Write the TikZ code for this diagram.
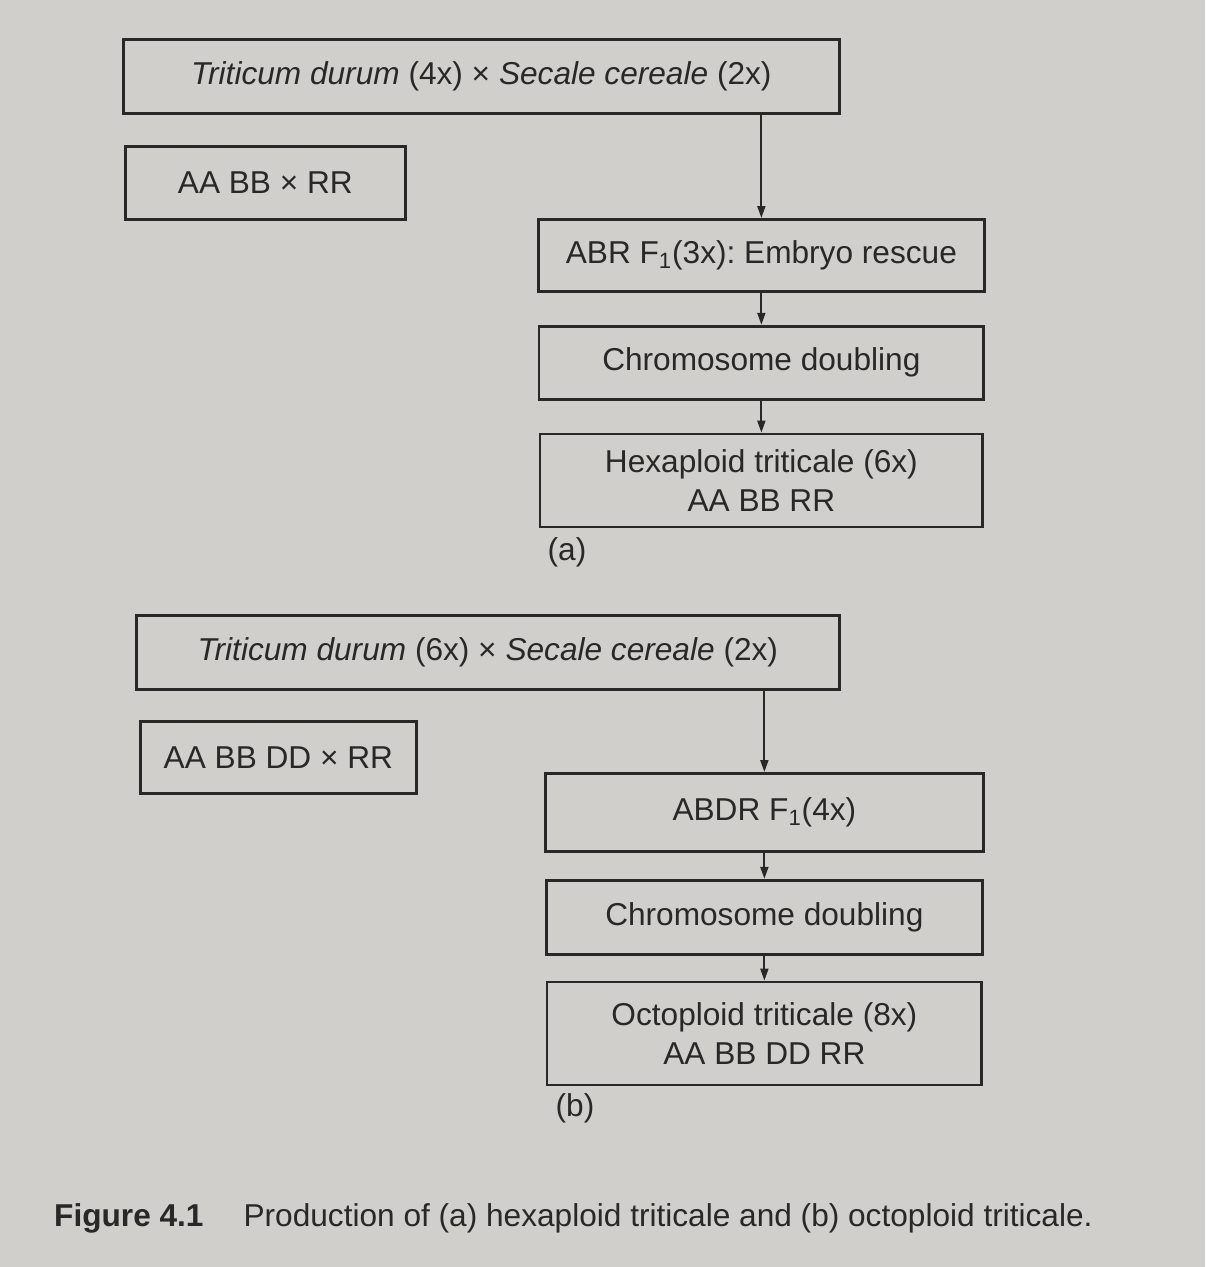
\documentclass[tikz,border=0pt]{standalone}
\usepackage{fontspec}
\setmainfont{Liberation Sans}
\usepackage{xcolor}
\usetikzlibrary{arrows.meta,positioning}
\definecolor{paper}{RGB}{208,207,203}
\definecolor{ink}{RGB}{40,40,40}

\begin{document}
\frenchspacing
\begin{tikzpicture}[
  x=0.02cm, y=-0.02cm,
  font=\fontsize{18}{22}\selectfont,
  box/.style={draw=ink, text=ink, line width=1.6pt, align=center,
              inner sep=0pt},
  tag/.style={text=ink},
  arr/.style={-{Triangle[length=2.4mm,width=1.6mm]}, draw=ink,
              line width=1.1pt}
]
\fill[paper] (0,0) rectangle (1205,1267);
\useasboundingbox (0,0) rectangle (1205,1267);
% part (a)
\node[box, anchor=north west, minimum width=14.32cm, minimum height=1.48cm]
  (crossA) at (122,38)
  {\textit{Triticum durum} (4x) × \textit{Secale cereale} (2x)};
\node[box, anchor=north west, minimum width=5.6cm, minimum height=1.46cm]
  (genomeA) at (124,145) {AA BB × RR};
\node[box, anchor=north west, minimum width=8.92cm, minimum height=1.44cm]
  (hybridA) at (537,218) {ABR F\textsubscript{1}(3x): Embryo rescue};
\node[box, below=0.64cm of hybridA, minimum width=8.9cm, minimum height=1.46cm]
  (doubleA) {Chromosome doubling};
\node[box, below=0.64cm of doubleA, minimum width=8.86cm, minimum height=1.86cm]
  (hexa) {Hexaploid triticale (6x)\\AA BB RR};
\node[tag] (labelA) at (567,552) {(a)};
\draw[arr] (crossA.south -| hybridA.north) -- (hybridA.north);
\draw[arr] (hybridA) -- (doubleA);
\draw[arr] (doubleA) -- (hexa);
% part (b)
\node[box, anchor=north west, minimum width=14.06cm, minimum height=1.48cm]
  (crossB) at (135,614)
  {\textit{Triticum durum} (6x) × \textit{Secale cereale} (2x)};
\node[box, anchor=north west, minimum width=5.52cm, minimum height=1.44cm]
  (genomeB) at (139,720) {AA BB DD × RR};
\node[box, anchor=north west, minimum width=8.76cm, minimum height=1.56cm]
  (hybridB) at (544,772) {ABDR F\textsubscript{1}(4x)};
\node[box, below=0.52cm of hybridB, minimum width=8.72cm, minimum height=1.48cm]
  (doubleB) {Chromosome doubling};
\node[box, below=0.5cm of doubleB, minimum width=8.7cm, minimum height=2.06cm]
  (octo) {Octoploid triticale (8x)\\AA BB DD RR};
\node[tag] (labelB) at (575,1108) {(b)};
\draw[arr] (crossB.south -| hybridB.north) -- (hybridB.north);
\draw[arr] (hybridB) -- (doubleB);
\draw[arr] (doubleB) -- (octo);
% caption
\node[tag, anchor=west] (caption) at (48,1218)
  {\textbf{Figure 4.1}\hspace{0.8cm}Production of (a) hexaploid triticale
   and (b) octoploid triticale.};
\end{tikzpicture}
\end{document}
